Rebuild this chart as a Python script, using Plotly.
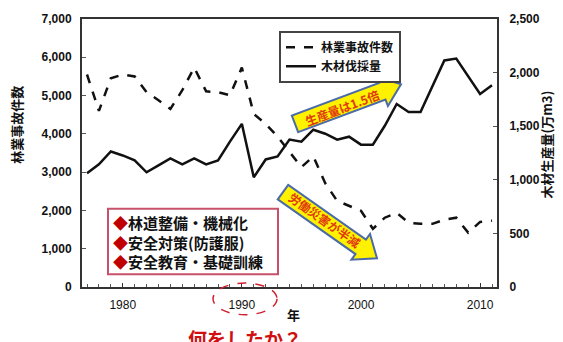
import math
import plotly.graph_objects as go

# ---- data ----
years = list(range(1977, 2012))
accidents = [5550, 4600, 5450, 5550, 5500, 5090, 4880, 4650, 5140, 5730,
             5110, 5090, 5010, 5730, 4520, 4260, 3930, 3540, 3130, 3410,
             2710, 2250, 2120, 1990, 1520, 1810, 1940, 1680, 1650, 1650,
             1760, 1810, 1420, 1700, 1730]
timber = [1061, 1144, 1264, 1227, 1181, 1070, 1135, 1199, 1144, 1199,
          1144, 1181, 1356, 1522, 1024, 1190, 1218, 1375, 1356, 1467,
          1430, 1375, 1402, 1328, 1328, 1504, 1707, 1633, 1633, 1873,
          2113, 2131, 1960, 1800, 1882]
name_acc = "林業事故件数"
name_tim = "木材伐採量"
left_title = "林業事故件数"
right_title = "木材生産量(万m3)"
x_ticks = [1980, 1990, 2000, 2010]
box_lines = ["林道整備・機械化", "安全対策(防護服)", "安全教育・基礎訓練"]
arrow_up_text = "生産量は1.5倍"
arrow_down_text = "労働災害が半減"
question = "何をしたか？"

W, H = 563, 342
L, R, T, B = 82, 66, 16, 55
PW, PH = W - L - R, H - T - B

def px(x):
    return (x - L) / PW

def py(y):
    return (H - B - y) / PH

fig = go.Figure()
fig.add_trace(go.Scatter(x=years, y=accidents, name=name_acc, mode="lines",
                         line=dict(color="#111", width=2.5, dash="dash")))
fig.add_trace(go.Scatter(x=years, y=timber, name=name_tim, mode="lines",
                         yaxis="y2", line=dict(color="#111", width=2.5)))

jp = "Noto Sans CJK JP"

fig.update_layout(
    width=W, height=H, margin=dict(l=L, r=R, t=T, b=B),
    paper_bgcolor="white", plot_bgcolor="white",
    showlegend=True,
    legend=dict(x=px(279), y=py(28), xanchor="left", yanchor="top",
                bordercolor="#444", borderwidth=2, bgcolor="white",
                font=dict(family=jp, size=12, color="#111", weight="bold"),
                itemwidth=30, tracegroupgap=0),
    xaxis=dict(range=[1976.58, 2011.42], tickvals=x_ticks,
               ticks="inside", ticklen=4, tickcolor="#333",
               minor=dict(dtick=1, ticks="inside", ticklen=3, tickcolor="#555"),
               showline=True, linecolor="#333", linewidth=2, mirror=True,
               showgrid=False, zeroline=False,
               tickfont=dict(family="Liberation Sans, Arial", size=12, color="#111"),
               ticklabelstandoff=6),
    yaxis=dict(range=[0, 7000], dtick=1000, tickformat=",d",
               ticks="inside", ticklen=4, tickcolor="#555",
               showline=True, linecolor="#333", linewidth=2, mirror=True,
               showgrid=False, zeroline=False,
               tickfont=dict(family="Liberation Sans, Arial", size=12, color="#111", weight="bold"),
               ticklabelstandoff=6),
    yaxis2=dict(range=[0, 2500], dtick=500, tickformat=",d", overlaying="y",
                side="right", ticks="inside", ticklen=4, tickcolor="#555",
                showline=True, linecolor="#333", linewidth=2,
                showgrid=False, zeroline=False,
                tickfont=dict(family="Liberation Sans, Arial", size=12, color="#111", weight="bold"),
                ticklabelstandoff=8),
)

def note(text, x, y, size, color="#111", angle=0, xa="center", ya="middle"):
    return dict(text=text, x=px(x), y=py(y), xref="paper", yref="paper",
                xanchor=xa, yanchor=ya, textangle=angle, showarrow=False,
                font=dict(family=jp, size=size, color=color, weight="bold"))

ann = []
ann.append(note(left_title, 17, 123, 13, angle=-90))
ann.append(note(right_title, 547, 143, 13, angle=-90))
ann.append(note("年", 293, 315, 13))
ann.append(note(question, 245, 323, 19, color="#d01010", ya="top"))

shapes = []
# red box with measures
shapes.append(dict(type="rect", xref="paper", yref="paper",
                   x0=px(108), x1=px(278), y0=py(274), y1=py(208),
                   line=dict(color="#c8506a", width=2), fillcolor="white"))
for i, t in enumerate(box_lines):
    ann.append(note("<span style='color:#c00000'>◆</span>" + t,
                    111, 222 + i * 19.5, 15, xa="left"))

# dashed ellipse around 1990
shapes.append(dict(type="circle", xref="paper", yref="paper",
                   x0=px(213), x1=px(277), y0=py(315), y1=py(283),
                   line=dict(color="#d02030", width=1.5, dash="dash")))

def arrow(sx, sy, tx, ty, w, h, hl):
    dx, dy = tx - sx, ty - sy
    ln = math.hypot(dx, dy)
    ux, uy = dx / ln, dy / ln
    nx, ny = -uy, ux
    bx, by = tx - ux * hl, ty - uy * hl
    pts = [(sx + nx * w, sy + ny * w), (bx + nx * w, by + ny * w),
           (bx + nx * h, by + ny * h), (tx, ty),
           (bx - nx * h, by - ny * h), (bx - nx * w, by - ny * w),
           (sx - nx * w, sy - ny * w)]
    path = "M " + " L ".join(f"{px(a):.5f},{py(b):.5f}" for a, b in pts) + " Z"
    ang = math.degrees(math.atan2(dy, dx))
    cx = sx + ux * (ln - hl) / 2
    cy = sy + uy * (ln - hl) / 2
    return path, ang, cx, cy

for (sx, sy, tx, ty, txt) in [(295, 122, 401, 82, arrow_up_text),
                              (283, 191, 377, 258, arrow_down_text)]:
    path, ang, cx, cy = arrow(sx, sy, tx, ty, 9, 16, 20)
    shapes.append(dict(type="path", xref="paper", yref="paper", path=path,
                       fillcolor="#fff200", line=dict(color="#4a6aa8", width=2)))
    ann.append(note(txt, cx + 3, cy, 12, color="#e03a10", angle=ang))

fig.update_layout(shapes=shapes, annotations=ann)
fig.write_html("out.html")
